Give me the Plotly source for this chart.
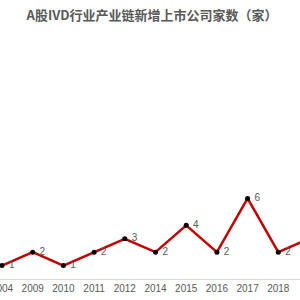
import plotly.graph_objects as go

years = ["2004", "2009", "2010", "2011", "2012", "2014", "2015", "2016", "2017", "2018", "2019"]
counts = [1, 2, 1, 2, 3, 2, 4, 2, 6, 2, 3]
title_text = "A股IVD行业产业链新增上市公司家数（家）"

xs = list(range(len(years)))
spacing = 30.7
x0px = 2.0
x_max = (300 - x0px) / spacing
labels = [" " + str(c) if x <= x_max else "" for x, c in zip(xs, counts)]

fig = go.Figure()
fig.add_trace(go.Scatter(
    x=xs, y=counts, mode="lines+markers+text",
    text=labels, textposition="middle right",
    textfont=dict(size=10, color="#595959", family="Liberation Sans, Arial"),
    line=dict(color="#C00000", width=2.5),
    marker=dict(color="#000000", size=5),
    cliponaxis=True, showlegend=False,
))

top = 40
bottom = 21
plot_h = 300 - top - bottom
ppu = 13.42
fig.update_layout(
    width=300, height=300,
    margin=dict(l=0, r=0, t=top, b=bottom, autoexpand=False),
    paper_bgcolor="white", plot_bgcolor="white",
    title=dict(text="<b>" + title_text + "</b>", x=0.507, xanchor="center", y=1 - 15/300, yanchor="middle",
               font=dict(size=13, color="#595959", family="Noto Sans CJK SC")),
)
fig.update_xaxes(
    range=[-x0px / spacing, x_max], automargin=False,
    tickvals=xs, ticktext=years, showgrid=False, zeroline=False,
    showline=True, linecolor="#D9D9D9", linewidth=1, ticklabeloverflow="allow",
    ticks="", tickfont=dict(size=10, color="#595959", family="Liberation Sans, Arial"),
)
fig.update_yaxes(range=[0, plot_h / ppu], automargin=False, showgrid=False, zeroline=False,
                 showticklabels=False, showline=False)
fig.write_html("out.html")
